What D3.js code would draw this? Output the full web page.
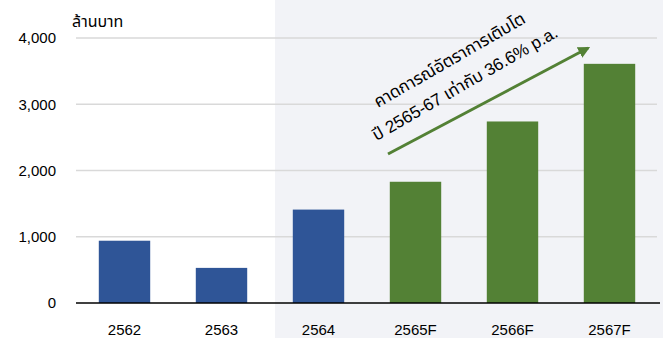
<!DOCTYPE html>
<html>
<head>
<meta charset="utf-8">
<script src="https://cdn.jsdelivr.net/npm/d3@7"></script>
<style>
  body { margin: 0; background: #fff; }
  text { font-family: "Liberation Sans", Arial, "Noto Sans Thai", "Noto Sans", sans-serif; }
</style>
</head>
<body>
<svg width="663" height="338"></svg>
<script>
// revenue by year, million baht
const years = ['2562', '2563', '2564', '2565F', '2566F', '2567F'];
const values = [940, 530, 1410, 1830, 2740, 3610];
const forecast = [false, false, false, true, true, true];
const yTicks = [0, 1000, 2000, 3000, 4000];

const svg = d3.select('svg');

const x = d3.scaleBand()
    .domain(years)
    .range([76, 658])
    .paddingInner(0.47)
    .paddingOuter(0.235);

const y = d3.scaleLinear()
    .domain([0, 4000])
    .range([303, 38]);

// shaded area behind the later years
svg.append('rect')
    .attr('x', 275)
    .attr('y', 0)
    .attr('width', 663 - 275)
    .attr('height', 338)
    .attr('fill', '#f2f3f7');

// gridlines
svg.append('g').selectAll('line')
    .data(yTicks.filter(d => d > 0))
    .enter().append('line')
    .attr('x1', 76).attr('x2', 657)
    .attr('y1', d => y(d)).attr('y2', d => y(d))
    .attr('stroke', '#d9d9d9')
    .attr('stroke-width', 1.5);

// y axis labels
const yAxis = d3.axisLeft(y).tickValues(yTicks).tickFormat(d3.format(',')).tickSize(0).tickPadding(0);
const gy = svg.append('g').attr('transform', 'translate(56,0)').call(yAxis);
gy.select('.domain').remove();
gy.selectAll('text')
    .attr('font-size', 15)
    .attr('fill', '#000')
    .style('font-family', '"Liberation Sans", Arial, sans-serif');

svg.append('text')
    .attr('x', 72)
    .attr('y', 27)
    .attr('font-size', 16)
    .attr('fill', '#000')
    .text('ล้านบาท');

// bars
svg.append('g').selectAll('rect')
    .data(values)
    .enter().append('rect')
    .attr('x', (d, i) => x(years[i]))
    .attr('y', d => y(d))
    .attr('width', x.bandwidth())
    .attr('height', d => y(0) - y(d))
    .attr('fill', (d, i) => forecast[i] ? '#538135' : '#2f5597');

// x axis
const xAxis = d3.axisBottom(x).tickSize(0).tickPadding(21);
const gx = svg.append('g').attr('transform', 'translate(0,' + y(0) + ')').call(xAxis);
gx.select('.domain').remove();
gx.selectAll('text')
    .attr('font-size', 15)
    .attr('fill', '#000')
    .style('font-family', '"Liberation Sans", Arial, sans-serif');

svg.append('line')
    .attr('x1', 76).attr('x2', 660)
    .attr('y1', y(0)).attr('y2', y(0))
    .attr('stroke', '#000')
    .attr('stroke-width', 1.5);

// growth arrow
svg.append('defs').append('marker')
    .attr('id', 'head')
    .attr('viewBox', '0 0 10 10')
    .attr('refX', 8).attr('refY', 5)
    .attr('markerWidth', 4).attr('markerHeight', 4)
    .attr('orient', 'auto')
    .append('path')
    .attr('d', 'M0,0 L10,5 L0,10 Z')
    .attr('fill', '#538135');

svg.append('line')
    .attr('x1', 388).attr('y1', 154)
    .attr('x2', 588).attr('y2', 48)
    .attr('stroke', '#538135')
    .attr('stroke-width', 3)
    .attr('marker-end', 'url(#head)');

const note = svg.append('g')
    .attr('transform', 'translate(378,108) rotate(-30)');
note.append('text')
    .attr('x', 0).attr('y', 0)
    .attr('font-size', 17)
    .attr('fill', '#000')
    .text('คาดการณ์อัตราการเติบโต');
note.append('text')
    .attr('x', -18).attr('y', 28)
    .attr('font-size', 17)
    .attr('fill', '#000')
    .text('ปี 2565-67 เท่ากับ 36.6% p.a.');
</script>
</body>
</html>
